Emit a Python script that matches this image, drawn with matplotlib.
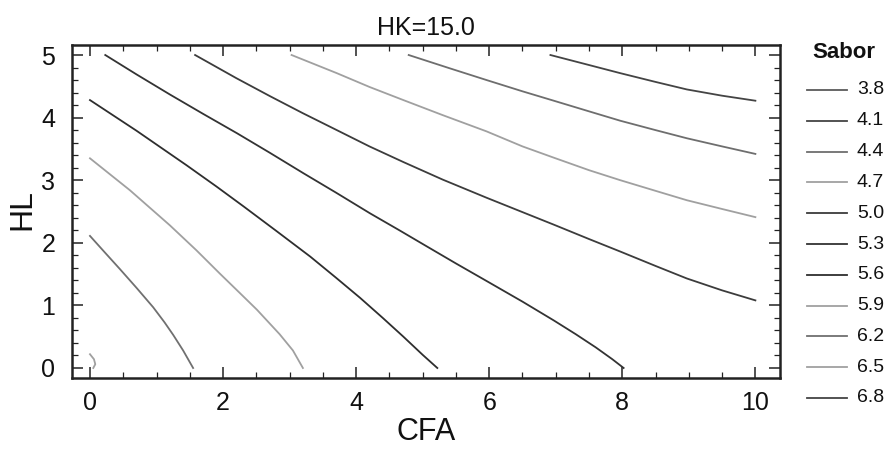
import matplotlib
matplotlib.use("Agg")
import matplotlib.pyplot as plt
from matplotlib.lines import Line2D
from matplotlib.ticker import MultipleLocator

# Contour levels of the response "Sabor" (HK fixed at 15.0)
levels = [3.8, 4.1, 4.4, 4.7, 5.0, 5.3, 5.6, 5.9, 6.2, 6.5, 6.8]
level_labels = ["3.8", "4.1", "4.4", "4.7", "5.0", "5.3", "5.6", "5.9", "6.2", "6.5", "6.8"]

# Iso-lines traced in (CFA, HL) space
sabor_41_x = [6.92, 7.5, 7.97, 8.5, 8.97, 9.5, 10.0]
sabor_41_y = [5.0, 4.84, 4.71, 4.57, 4.45, 4.35, 4.27]

sabor_44_x = [4.79, 5.4, 5.96, 6.5, 6.97, 7.5, 7.97, 8.5, 8.97, 9.5, 10.0]
sabor_44_y = [5.0, 4.79, 4.60, 4.42, 4.27, 4.10, 3.95, 3.80, 3.67, 3.54, 3.42]

sabor_47_x = [3.03, 3.71, 4.2, 4.71, 5.3, 5.96, 6.5, 6.97, 7.5, 7.97, 8.5, 8.97, 9.5, 10.0]
sabor_47_y = [5.0, 4.71, 4.49, 4.28, 4.04, 3.78, 3.54, 3.36, 3.16, 3.00, 2.83, 2.68, 2.54, 2.41]

sabor_50_x = [1.58, 2.2, 2.71, 3.2, 3.71, 4.2, 4.71, 5.3, 5.96, 6.5, 6.97, 7.5, 7.97, 8.5, 8.97, 9.5, 10.0]
sabor_50_y = [5.0, 4.63, 4.34, 4.07, 3.80, 3.54, 3.29, 3.01, 2.72, 2.49, 2.29, 2.06, 1.86, 1.63, 1.43, 1.24, 1.08]

sabor_53_x = [0.23, 0.7, 1.20, 1.7, 2.21, 2.7, 3.21, 3.7, 4.21, 4.65, 5.05, 5.5, 5.96, 6.5, 6.97, 7.3, 7.6, 7.85, 8.02]
sabor_53_y = [5.0, 4.69, 4.37, 4.06, 3.75, 3.44, 3.11, 2.80, 2.47, 2.20, 1.95, 1.67, 1.39, 1.06, 0.76, 0.54, 0.33, 0.14, 0.0]

sabor_56_x = [0.0, 0.7, 1.45, 1.9, 2.31, 2.8, 3.31, 3.7, 4.06, 4.4, 4.71, 5.0, 5.22]
sabor_56_y = [4.28, 3.79, 3.24, 2.90, 2.58, 2.19, 1.78, 1.44, 1.12, 0.80, 0.50, 0.21, 0.0]

sabor_59_x = [0.0, 0.6, 1.2, 1.6, 1.95, 2.25, 2.51, 2.85, 3.05, 3.2]
sabor_59_y = [3.35, 2.84, 2.28, 1.88, 1.51, 1.20, 0.93, 0.54, 0.28, 0.0]

sabor_62_x = [0.0, 0.22, 0.45, 0.7, 0.95, 1.12, 1.25, 1.4, 1.55]
sabor_62_y = [2.11, 1.85, 1.58, 1.28, 0.97, 0.73, 0.53, 0.28, 0.0]

sabor_65_x = [0.0, 0.06, 0.08, 0.05]
sabor_65_y = [0.22, 0.14, 0.06, 0.0]

iso_lines = {
    4.1: (sabor_41_x, sabor_41_y),
    4.4: (sabor_44_x, sabor_44_y),
    4.7: (sabor_47_x, sabor_47_y),
    5.0: (sabor_50_x, sabor_50_y),
    5.3: (sabor_53_x, sabor_53_y),
    5.6: (sabor_56_x, sabor_56_y),
    5.9: (sabor_59_x, sabor_59_y),
    6.2: (sabor_62_x, sabor_62_y),
    6.5: (sabor_65_x, sabor_65_y),
}

# grey shade for each level
level_colors = ["#5a5a5a", "#444444", "#6e6e6e", "#a0a0a0", "#3c3c3c", "#333333",
                "#2e2e2e", "#a0a0a0", "#707070", "#a0a0a0", "#444444"]

NARROW = ["Liberation Sans Narrow", "Liberation Sans", "DejaVu Sans"]
REGULAR = ["Liberation Sans", "DejaVu Sans"]

W, H = 895, 450
fig = plt.figure(figsize=(W / 100, H / 100), dpi=100)
ax = fig.add_axes([72 / W, 1 - 378 / H, (780 - 72) / W, (378 - 45) / H])

for lev, col in zip(levels, level_colors):
    if lev in iso_lines:
        xs, ys = iso_lines[lev]
        ax.plot(xs, ys, color=col, lw=1.3, solid_joinstyle="round")

ax.set_xlim(-0.27, 10.37)
ax.set_ylim(-0.16, 5.16)
ax.xaxis.set_major_locator(MultipleLocator(2))
ax.xaxis.set_minor_locator(MultipleLocator(0.5))
ax.yaxis.set_major_locator(MultipleLocator(1))
ax.yaxis.set_minor_locator(MultipleLocator(0.2))
ax.tick_params(which="both", direction="in", top=True, right=True, color="#222222")
ax.tick_params(which="major", length=8, width=1.1)
ax.tick_params(which="minor", length=4, width=0.9)
ax.tick_params(axis="x", which="major", pad=9)
ax.tick_params(axis="y", which="major", pad=12)
for sp in ax.spines.values():
    sp.set_linewidth(1.8)
    sp.set_color("#222222")

for lab in ax.get_xticklabels() + ax.get_yticklabels():
    lab.set_family(NARROW)
    lab.set_fontsize(18)
    lab.set_color("#111111")

fig.text(426 / W, 1 - 28 / H, "HK=15.0", family=NARROW, fontsize=18,
         ha="center", va="center", color="#111111")
fig.text(426 / W, 1 - 432 / H, "CFA", family=REGULAR, fontsize=22,
         ha="center", va="center", color="#111111")
fig.text(22 / W, 1 - 210 / H, "HL", family=REGULAR, fontsize=23,
         rotation=90, ha="center", va="center", color="#111111")

# key for the contour levels
fig.text(844 / W, 1 - 53 / H, "Sabor", family=REGULAR, fontsize=16,
         fontweight="bold", ha="center", va="center", color="#111111")
for i, (lab, col) in enumerate(zip(level_labels, level_colors)):
    yy = 1 - (90 + 30.8 * i) / H
    fig.add_artist(Line2D([807 / W, 847 / W], [yy, yy], transform=fig.transFigure,
                          color=col, lw=1.3))
    fig.text(857 / W, yy, lab, family=REGULAR, fontsize=14,
             ha="left", va="center", color="#111111")

fig.savefig("out.png", dpi=100, facecolor="white")
